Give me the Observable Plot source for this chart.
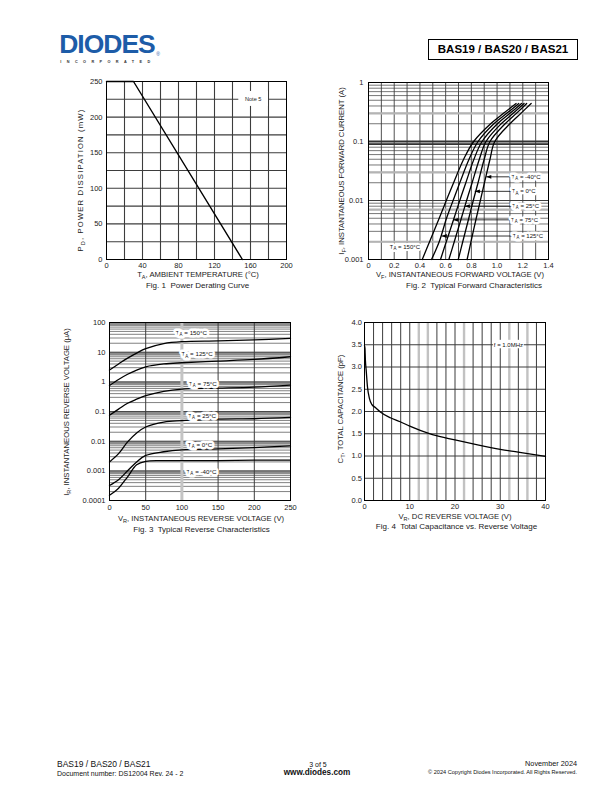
<!DOCTYPE html>
<html><head><meta charset="utf-8">
<script src="https://cdn.jsdelivr.net/npm/d3@7"></script>
<script src="https://cdn.jsdelivr.net/npm/@observablehq/plot@0.6"></script>
<style>
body{margin:0;background:#fff}
#page{position:relative;width:612px;height:792px;overflow:hidden;background:#fff;font-family:"Liberation Sans",Arial,Helvetica,sans-serif;color:#1a1a1a}
.abs{position:absolute;white-space:nowrap;line-height:1}
.c{transform:translate(-50%,-50%)}
.l{transform:translate(0,-50%)}
.rt{transform:translate(-100%,-50%)}
.r{transform:translate(-50%,-50%) rotate(-90deg)}
.axt{font-size:7.7px;color:#1a1a1a}
.cap{font-size:8px;color:#1a1a1a}
sub{font-size:0.72em;vertical-align:-0.35em;line-height:0}
</style></head><body><div id="page"></div>
<script>
// ---------------- Fig. 1 Power derating ----------------
const fig1Temp = [0, 30, 151];
const fig1Power = [250, 250, 0];
const fig1XTicks = [0, 40, 80, 120, 160, 200];
const fig1XTickLabels = ["0", "40", "80", "120", "160", "200"];
const fig1YTicks = [0, 50, 100, 150, 200, 250];
const fig1YTickLabels = ["0", "50", "100", "150", "200", "250"];
const fig1NoteText = ["Note 5"];
const fig1NoteTemp = [163];
const fig1NotePower = [225.5];
const fig1NoteBoxTemp = [147, 180];
const fig1NoteBoxPower = [215, 236];

// ---------------- Fig. 2 Forward characteristics ----------------
const fig2Current = [0.001, 0.002, 0.005, 0.01, 0.02, 0.05, 0.1, 0.2, 0.3, 0.44];
const fig2Temps = ["150", "125", "75", "25", "0", "-40"];
const fig2V150 = [0.418, 0.475, 0.550, 0.605, 0.662, 0.740, 0.818, 0.950, 1.050, 1.148];
const fig2V125 = [0.490, 0.550, 0.607, 0.658, 0.710, 0.782, 0.852, 0.975, 1.075, 1.169];
const fig2V75  = [0.560, 0.605, 0.665, 0.710, 0.757, 0.820, 0.883, 1.003, 1.100, 1.190];
const fig2V25  = [0.625, 0.667, 0.722, 0.763, 0.806, 0.862, 0.914, 1.032, 1.125, 1.210];
const fig2V0   = [0.698, 0.733, 0.780, 0.815, 0.852, 0.900, 0.945, 1.063, 1.150, 1.230];
const fig2Vm40 = [0.767, 0.797, 0.838, 0.870, 0.902, 0.945, 0.982, 1.100, 1.185, 1.265];
const fig2XTicks = [0, 0.2, 0.4, 0.6, 0.8, 1.0, 1.2, 1.4];
const fig2XTickLabels = ["0", "0.2", "0.4", "0. 6", "0.8", "1.0", "1.2", "1.4"];
const fig2YTicks = [0.001, 0.01, 0.1, 1];
const fig2YTickLabels = ["0.001", "0.01", "0.1", "1"];
const fig2LabelText = ["T_A = -40°C", "T_A = 0°C", "T_A = 25°C", "T_A = 75°C", "T_A = 125°C"];
const fig2LabelCurrent = [0.0252, 0.0143, 0.008, 0.0047, 0.0025];
const fig2ArrowTipV = [0.915, 0.826, 0.748, 0.658, 0.568];
const fig2LabelV = [1.225, 1.207, 1.222, 1.214, 1.24];
const fig2HotText = ["T_A = 150°C"];
const fig2HotV = [0.283];
const fig2HotCurrent = [0.00165];

// ---------------- Fig. 3 Reverse characteristics ----------------
const fig3Voltage = [0, 12.5, 25, 37.5, 50, 75, 100, 150, 200, 250];
const fig3Temps = ["150", "125", "75", "25", "0", "-40"];
const fig3I150 = [2.5, 4.0, 6.3, 9.3, 13.2, 19.5, 22.6, 24.0, 25.8, 29.0];
const fig3I125 = [0.75, 1.2, 1.8, 2.5, 3.2, 4.0, 4.4, 5.0, 5.7, 7.0];
const fig3I75  = [0.075, 0.12, 0.19, 0.26, 0.34, 0.48, 0.57, 0.61, 0.66, 0.78];
const fig3I25  = [0.002, 0.0038, 0.0095, 0.019, 0.030, 0.044, 0.049, 0.055, 0.057, 0.063];
const fig3I0   = [0.00032, 0.0005, 0.001, 0.002, 0.0033, 0.0044, 0.0051, 0.0055, 0.0061, 0.0069];
const fig3Im40 = [0.00015, 0.00026, 0.00063, 0.0016, 0.0021, 0.0022, 0.0022, 0.0022, 0.0023, 0.0023];
const fig3XTicks = [0, 50, 100, 150, 200, 250];
const fig3XTickLabels = ["0", "50", "100", "150", "200", "250"];
const fig3YTicks = [0.0001, 0.001, 0.01, 0.1, 1, 10, 100];
const fig3YTickLabels = ["0.0001", "0.001", "0.01", "0.1", "1", "10", "100"];
const fig3LabelText = ["T_A = 150°C", "T_A = 125°C", "T_A = 75°C", "T_A = 25°C", "T_A = 0°C", "T_A = -40°C"];
const fig3LabelV = [113, 121, 129, 128, 125, 127];
const fig3LabelI = [44, 8.4, 0.87, 0.072, 0.0075, 0.00092];

// ---------------- Fig. 4 Capacitance ----------------
const fig4Voltage = [0, 0.1, 0.2, 0.37, 0.66, 1.1, 1.6, 2.4, 3.5, 5.7, 7.9, 10, 15, 20, 25, 30, 35, 40];
const fig4Cap = [3.48, 3.42, 3.15, 2.93, 2.55, 2.29, 2.16, 2.09, 1.99, 1.86, 1.77, 1.67, 1.48, 1.36, 1.25, 1.15, 1.07, 0.99];
const fig4XTicks = [0, 10, 20, 30, 40];
const fig4XTickLabels = ["0", "10", "20", "30", "40"];
const fig4YTicks = [0, 0.5, 1, 1.5, 2, 2.5, 3, 3.5, 4];
const fig4YTickLabels = ["0.0", "0.5", "1.0", "1.5", "2.0", "2.5", "3.0", "3.5", "4.0"];
const fig4LightGridV = [12, 14, 22, 32, 36];
const fig4NoteText = ["f = 1.0MHz"];
const fig4NoteV = [31.8];
const fig4NoteCap = [3.5];
const fig4NoteBoxV = [28.5, 35.3];
const fig4NoteBoxCap = [3.41, 3.6];

// ---------------- page texts ----------------
const axisTitles = [
  {html: "P<sub>D</sub>, POWER DISSIPATION (mW)", cx: 81, cy: 180, rot: true, ls: 1.15},
  {html: "T<sub>A</sub>, AMBIENT TEMPERATURE (°C)", cx: 198, cy: 275, rot: false, ls: 0},
  {html: "I<sub>F</sub>, INSTANTANEOUS FORWARD CURRENT (A)", cx: 341.5, cy: 171, rot: true, ls: 0},
  {html: "V<sub>F</sub>, INSTANTANEOUS FORWARD VOLTAGE (V)", cx: 460, cy: 275, rot: false, ls: 0},
  {html: "I<sub>R</sub>, INSTANTANEOUS REVERSE VOLTAGE (μA)", cx: 67, cy: 412, rot: true, ls: 0},
  {html: "V<sub>R</sub>, INSTANTANEOUS REVERSE VOLTAGE (V)", cx: 201, cy: 518.5, rot: false, ls: 0},
  {html: "C<sub>T</sub>, TOTAL CAPACITANCE (pF)", cx: 341, cy: 409, rot: true, ls: 0},
  {html: "V<sub>R</sub>, DC REVERSE VOLTAGE (V)", cx: 455, cy: 516.5, rot: false, ls: 0}
];
const captions = [
  {text: "Fig. 1  Power Derating Curve", cx: 197.5, cy: 285.5},
  {text: "Fig. 2  Typical Forward Characteristics", cx: 474, cy: 285.5},
  {text: "Fig. 3  Typical Reverse Characteristics", cx: 201.5, cy: 529.5},
  {text: "Fig. 4  Total Capacitance vs. Reverse Voltage", cx: 456.5, cy: 527}
];

// ================= helpers =================
const page = document.getElementById("page");
const FONT = '"Liberation Sans", Arial, Helvetica, sans-serif';
const baseStyle = {fontFamily: FONT, fontSize: "7.5px", color: "#222", background: "transparent", overflow: "visible"};
const GRID = "#3d3d3d";
function fmt(vals, labels) { const m = new Map(vals.map((v, i) => [v, labels[i]])); return d => m.has(d) ? m.get(d) : ""; }
function logMinor(decades) { return decades.flatMap(d => [2, 3, 4, 5, 6, 7, 8, 9].map(k => k * d)); }
function subscriptify(svg) {
  d3.select(svg).selectAll("text").each(function () {
    const t = this.textContent;
    const m = t.match(/^(.*?)_(\w)(.*)$/);
    if (!m) return;
    const el = d3.select(this);
    el.text(null);
    el.append("tspan").text(m[1]);
    el.append("tspan").attr("dy", "0.3em").attr("font-size", "0.75em").text(m[2]);
    el.append("tspan").attr("dy", "-0.225em").text(m[3]);
  });
}
function place(svg, left, top) {
  subscriptify(svg);
  svg.style.position = "absolute";
  svg.style.left = left + "px";
  svg.style.top = top + "px";
  svg.style.maxWidth = "none";
  page.appendChild(svg);
}
function addDiv(html, cls, css) {
  const d = document.createElement("div");
  d.className = "abs " + cls;
  d.style.cssText = css;
  d.innerHTML = html;
  page.appendChild(d);
  return d;
}
const leftTriangle = {draw(ctx) { ctx.moveTo(0, 0); ctx.lineTo(5.2, -1.9); ctx.lineTo(5.2, 1.9); ctx.closePath(); }};

// ================= Fig. 1 =================
const fig1 = Plot.plot({
  width: 226, height: 205, marginLeft: 40, marginRight: 6, marginTop: 10, marginBottom: 17,
  style: baseStyle,
  x: {domain: [0, 200], label: null, ticks: fig1XTicks, tickFormat: fmt(fig1XTicks, fig1XTickLabels), tickSize: 0, tickPadding: 3},
  y: {domain: [0, 250], label: null, ticks: fig1YTicks, tickFormat: fmt(fig1YTicks, fig1YTickLabels), tickSize: 0, tickPadding: 4},
  marks: [
    Plot.ruleX(d3.range(20, 200, 20), {stroke: GRID, strokeWidth: 1.1}),
    Plot.ruleY(d3.range(25, 250, 25), {stroke: GRID, strokeWidth: 1.1}),
    Plot.rect([0], {x1: () => fig1NoteBoxTemp[0], x2: () => fig1NoteBoxTemp[1], y1: () => fig1NoteBoxPower[0], y2: () => fig1NoteBoxPower[1], fill: "white"}),
    Plot.frame({stroke: "#000", strokeWidth: 1}),
    Plot.line(fig1Temp.map((t, i) => ({t, p: fig1Power[i]})), {x: "t", y: "p", stroke: "#000", strokeWidth: 1.4}),
    Plot.text(fig1NoteText.map((s, i) => ({s, t: fig1NoteTemp[i], p: fig1NotePower[i]})), {x: "t", y: "p", text: "s", fontSize: 5.6, fill: "#222"})
  ]
});
place(fig1, 66, 71);

// ================= Fig. 2 =================
const fig2Curves = [fig2V150, fig2V125, fig2V75, fig2V25, fig2V0, fig2Vm40];
const fig2Rows = fig2Temps.flatMap((t, k) => fig2Current.map((c, i) => ({t, v: fig2Curves[k][i], i: c})));
const fig2Labels = fig2LabelText.map((s, k) => ({s, i: fig2LabelCurrent[k], tip: fig2ArrowTipV[k], lv: fig2LabelV[k]}));
const fig2 = Plot.plot({
  width: 226, height: 204, marginLeft: 40, marginRight: 6, marginTop: 10, marginBottom: 17,
  style: baseStyle,
  x: {domain: [0, 1.4], label: null, ticks: fig2XTicks, tickFormat: fmt(fig2XTicks, fig2XTickLabels), tickSize: 0, tickPadding: 3},
  y: {type: "log", domain: [0.001, 1], label: null, ticks: fig2YTicks, tickFormat: fmt(fig2YTicks, fig2YTickLabels), tickSize: 0, tickPadding: 5},
  marks: [
    Plot.ruleX(d3.range(1, 14).map(k => k / 10), {stroke: GRID, strokeWidth: 0.9}),
    Plot.ruleY(logMinor([0.001, 0.01, 0.1]), {stroke: GRID, strokeWidth: 0.7}),
    Plot.ruleY([0.01], {stroke: GRID, strokeWidth: 1}),
    Plot.ruleY([0.3, 0.03, 0.007, 0.002], {stroke: "#b4b4b4", strokeWidth: 2.2}),
    Plot.ruleY([0.1, 0.09], {stroke: "#333", strokeWidth: 1.8}),
    Plot.frame({stroke: "#000", strokeWidth: 1}),
    Plot.line(fig2Rows, {x: "v", y: "i", z: "t", curve: "catmull-rom", stroke: "#000", strokeWidth: 1.3}),
    Plot.link(fig2Labels, {x1: "tip", x2: "lv", y1: "i", y2: "i", stroke: "#000", strokeWidth: 0.8}),
    Plot.dot(fig2Labels, {x: "tip", y: "i", symbol: leftTriangle, fill: "#000", stroke: null}),
    Plot.text(fig2Labels, {x: "lv", y: "i", text: "s", fontSize: 6, fill: "#111", stroke: "white", strokeWidth: 5, paintOrder: "stroke"}),
    Plot.text(fig2HotText.map((s, k) => ({s, v: fig2HotV[k], i: fig2HotCurrent[k]})), {x: "v", y: "i", text: "s", fontSize: 6, fill: "#111", stroke: "white", strokeWidth: 4, paintOrder: "stroke"})
  ]
});
place(fig2, 328, 72);

// ================= Fig. 3 =================
const fig3Curves = [fig3I150, fig3I125, fig3I75, fig3I25, fig3I0, fig3Im40];
const fig3Rows = fig3Temps.flatMap((t, k) => fig3Voltage.map((v, i) => ({t, v, i: fig3Curves[k][i]})));
const fig3Labels = fig3LabelText.map((s, k) => ({s, v: fig3LabelV[k], i: fig3LabelI[k]}));
const fig3Decades = [0.001, 0.01, 0.1, 1, 10, 100];
const fig3 = Plot.plot({
  width: 227, height: 205, marginLeft: 40, marginRight: 6, marginTop: 10, marginBottom: 17,
  style: baseStyle,
  x: {domain: [0, 250], label: null, ticks: fig3XTicks, tickFormat: fmt(fig3XTicks, fig3XTickLabels), tickSize: 0, tickPadding: 4},
  y: {type: "log", domain: [0.0001, 100], label: null, ticks: fig3YTicks, tickFormat: fmt(fig3YTicks, fig3YTickLabels), tickSize: 0, tickPadding: 4},
  marks: [
    Plot.ruleY(logMinor([0.0001, 0.001, 0.01, 0.1, 1, 10]), {stroke: "#4a4a4a", strokeWidth: 0.7}),
    Plot.ruleY(fig3Decades.map(d => d * 0.9), {stroke: "#8c8c8c", strokeWidth: 3}),
    Plot.ruleY([0.001, 0.01, 0.1, 1, 10], {stroke: GRID, strokeWidth: 0.9}),
    Plot.ruleX([50, 150, 200], {stroke: GRID, strokeWidth: 1}),
    Plot.ruleX([100], {stroke: "#c4c4c4", strokeWidth: 3}),
    Plot.frame({stroke: "#000", strokeWidth: 1}),
    Plot.line(fig3Rows, {x: "v", y: "i", z: "t", curve: "catmull-rom", stroke: "#000", strokeWidth: 1.3}),
    Plot.text(fig3Labels, {x: "v", y: "i", text: "s", fontSize: 6.2, fill: "#111", stroke: "white", strokeWidth: 5, paintOrder: "stroke"})
  ]
});
place(fig3, 69, 312);

// ================= Fig. 4 =================
const fig4Rows = fig4Voltage.map((v, i) => ({v, c: fig4Cap[i]}));
const fig4 = Plot.plot({
  width: 227, height: 205, marginLeft: 40, marginRight: 6, marginTop: 10, marginBottom: 17,
  style: baseStyle,
  x: {domain: [0, 40], label: null, ticks: fig4XTicks, tickFormat: fmt(fig4XTicks, fig4XTickLabels), tickSize: 0, tickPadding: 3},
  y: {domain: [0, 4], label: null, ticks: fig4YTicks, tickFormat: fmt(fig4YTicks, fig4YTickLabels), tickSize: 0, tickPadding: 2.5},
  marks: [
    Plot.ruleX(d3.range(2, 40, 2).filter(v => !fig4LightGridV.includes(v)), {stroke: GRID, strokeWidth: 1}),
    Plot.ruleX(fig4LightGridV, {stroke: "#c2c2c2", strokeWidth: 2.4}),
    Plot.ruleY(d3.range(0.5, 4, 0.5), {stroke: GRID, strokeWidth: 1}),
    Plot.rect([0], {x1: () => fig4NoteBoxV[0], x2: () => fig4NoteBoxV[1], y1: () => fig4NoteBoxCap[0], y2: () => fig4NoteBoxCap[1], fill: "white"}),
    Plot.frame({stroke: "#000", strokeWidth: 1}),
    Plot.line(fig4Rows, {x: "v", y: "c", curve: "monotone-x", stroke: "#000", strokeWidth: 1.3}),
    Plot.text(fig4NoteText.map((s, k) => ({s, v: fig4NoteV[k], c: fig4NoteCap[k]})), {x: "v", y: "c", text: "s", fontSize: 6, fill: "#111"})
  ]
});
place(fig4, 324, 312);

// ================= text around charts =================
for (const a of axisTitles) {
  addDiv(a.html, "axt " + (a.rot ? "r" : "c"), `left:${a.cx}px;top:${a.cy}px;letter-spacing:${a.ls}px`);
}
for (const c of captions) {
  addDiv(c.text.replace("  ", "&nbsp; "), "cap c", `left:${c.cx}px;top:${c.cy}px`);
}

// header
addDiv("DIODES", "c", "left:107px;top:44.8px;font-size:26.5px;line-height:0.75;font-weight:bold;color:#1d5ca8;letter-spacing:-1px");
addDiv("®", "c", "left:158px;top:54px;font-size:5px;color:#1d5ca8");
addDiv("INCORPORATED", "c", "left:108px;top:62.6px;font-size:3.8px;font-weight:bold;color:#333;letter-spacing:5.4px");
addDiv("BAS19 / BAS20 / BAS21", "", "left:428px;top:39px;width:150px;height:21px;box-sizing:border-box;border:1.2px solid #000;display:flex;align-items:center;justify-content:center;font-size:11.5px;font-weight:bold;color:#000");

// footer
addDiv("BAS19 / BAS20 / BAS21", "l", "left:57px;top:763.5px;font-size:8.5px;color:#111");
addDiv("Document number: DS12004 Rev. 24 - 2", "l", "left:57px;top:773px;font-size:7px;color:#111");
addDiv("3 of 5", "c", "left:318px;top:764px;font-size:7px;color:#111");
addDiv("www.diodes.com", "c", "left:317px;top:772.5px;font-size:8.2px;font-weight:bold;color:#111");
addDiv("November 2024", "rt", "left:577px;top:764px;font-size:7.3px;color:#111");
addDiv("© 2024 Copyright Diodes Incorporated. All Rights Reserved.", "rt", "left:577px;top:772.5px;font-size:5.6px;color:#111");
</script></body></html>
